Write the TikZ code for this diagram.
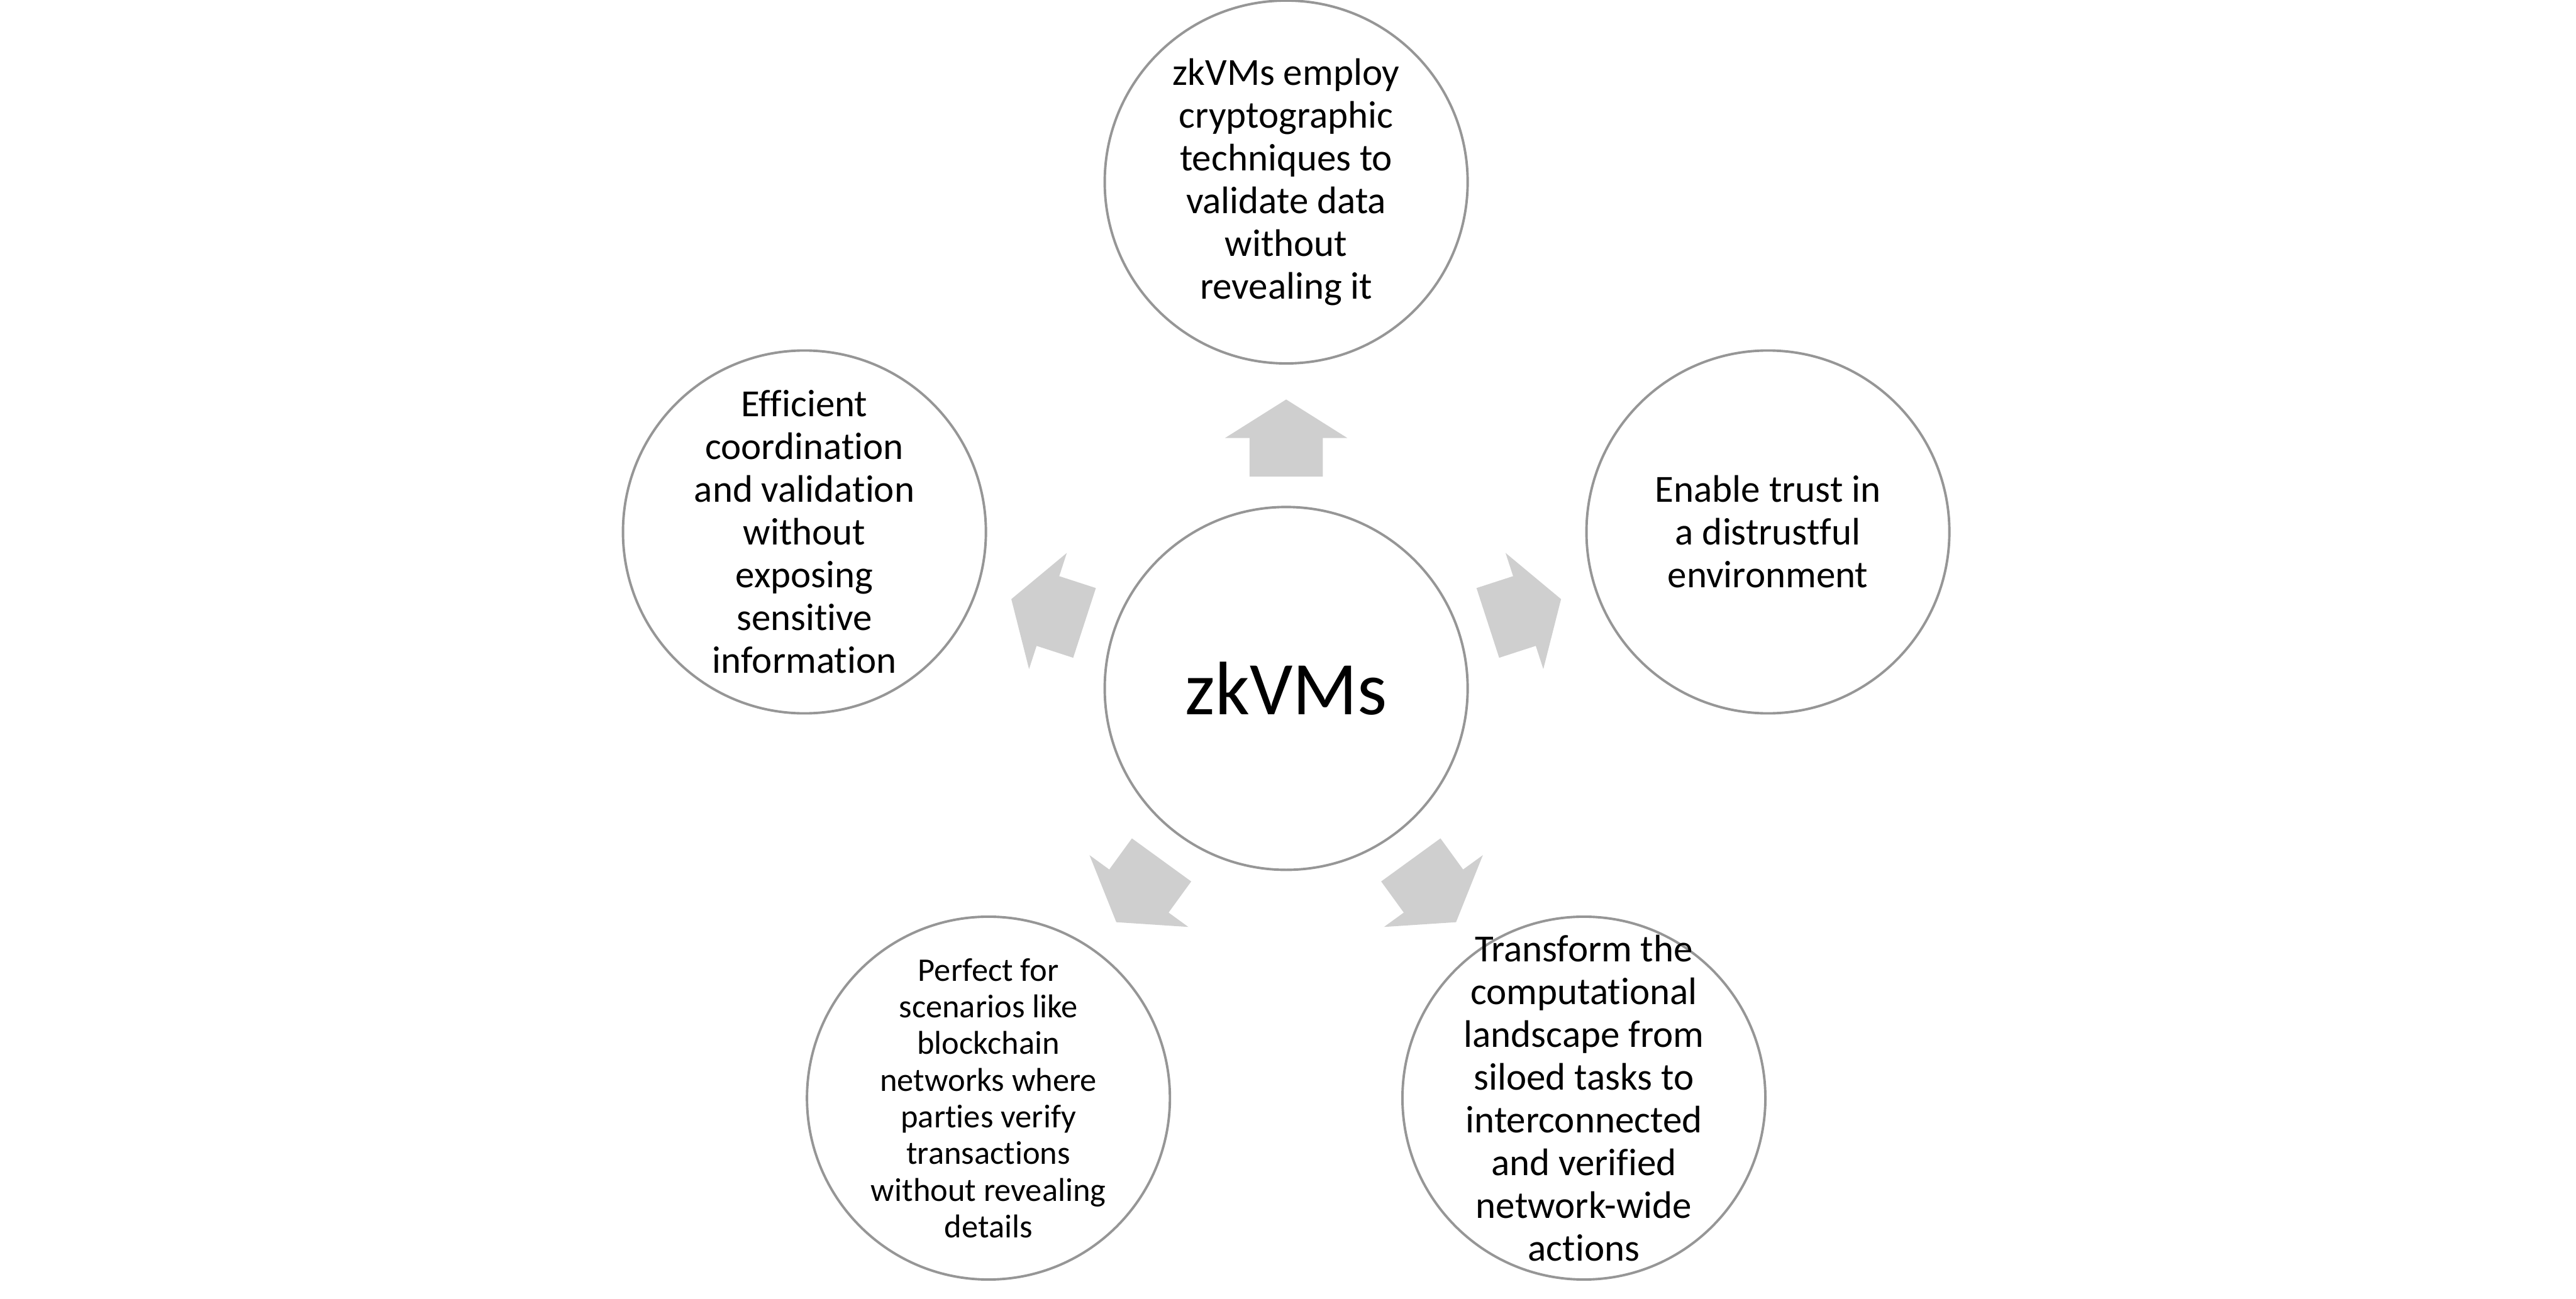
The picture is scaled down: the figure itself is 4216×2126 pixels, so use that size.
\documentclass[tikz,border=0pt]{standalone}
\usepackage{fontspec}
\setmainfont[Ligatures={NoCommon}]{Carlito}
\definecolor{ringgray}{RGB}{150,150,150}
\definecolor{arrowgray}{RGB}{207,207,207}
\begin{document}
\begin{tikzpicture}[x=0.25pt,y=0.25pt,
  bubble/.style={circle, draw=ringgray, line width=1pt, minimum size=148.5pt, inner sep=0pt},
  txt/.style={align=center, inner sep=0pt, text=black, font=\fontsize{15.7}{17.5}\selectfont},
  smalltxt/.style={align=center, inner sep=0pt, text=black, font=\fontsize{13.5}{15}\selectfont},
  bigtxt/.style={inner sep=0pt, text=black, font=\fontsize{31}{37}\selectfont},
  blockarrow/.style={fill=arrowgray}]
\useasboundingbox (0,0) rectangle (4216,2126);

% centre
\node[bubble] (c) at (2105,999) {};
\node[bigtxt] (ct) at (c.center) {zkVMs};

% outer circles
\node[bubble] (top) at ([shift={(90:829)}]c.center) {};
\node[bubble] (rgt) at ([shift={(18:829)}]c.center) {};
\node[bubble] (lft) at ([shift={(162:829)}]c.center) {};
\node[bubble] (br)  at ([shift={(-54:829)}]c.center) {};
\node[bubble] (bl)  at ([shift={(-126:829)}]c.center) {};

% block arrows
\foreach \a in {90,18,162,-54,-126}{
  \begin{scope}[shift={(c.center)}, rotate=\a]
    \fill[blockarrow] (347,-60) -- (410,-60) -- (410,-100) -- (473,0) -- (410,100) -- (410,60) -- (347,60) -- cycle;
  \end{scope}
}

% texts
\node[txt] (topt) at (top.center) {zkVMs employ\\cryptographic\\techniques to\\validate data\\without\\revealing it};
\node[txt] (rgtt) at (rgt.center) {Enable trust in\\a distrustful\\environment};
\node[txt] (lftt) at (lft.center) {Efficient\\coordination\\and validation\\without\\exposing\\sensitive\\information};
\node[txt] (brt) at (br.center) {Transform the\\computational\\landscape from\\siloed tasks to\\interconnected\\and verified\\network-wide\\actions};
\node[smalltxt] (blt) at (bl.center) {Perfect for\\scenarios like\\blockchain\\networks where\\parties verify\\transactions\\without revealing\\details};
\end{tikzpicture}
\end{document}
